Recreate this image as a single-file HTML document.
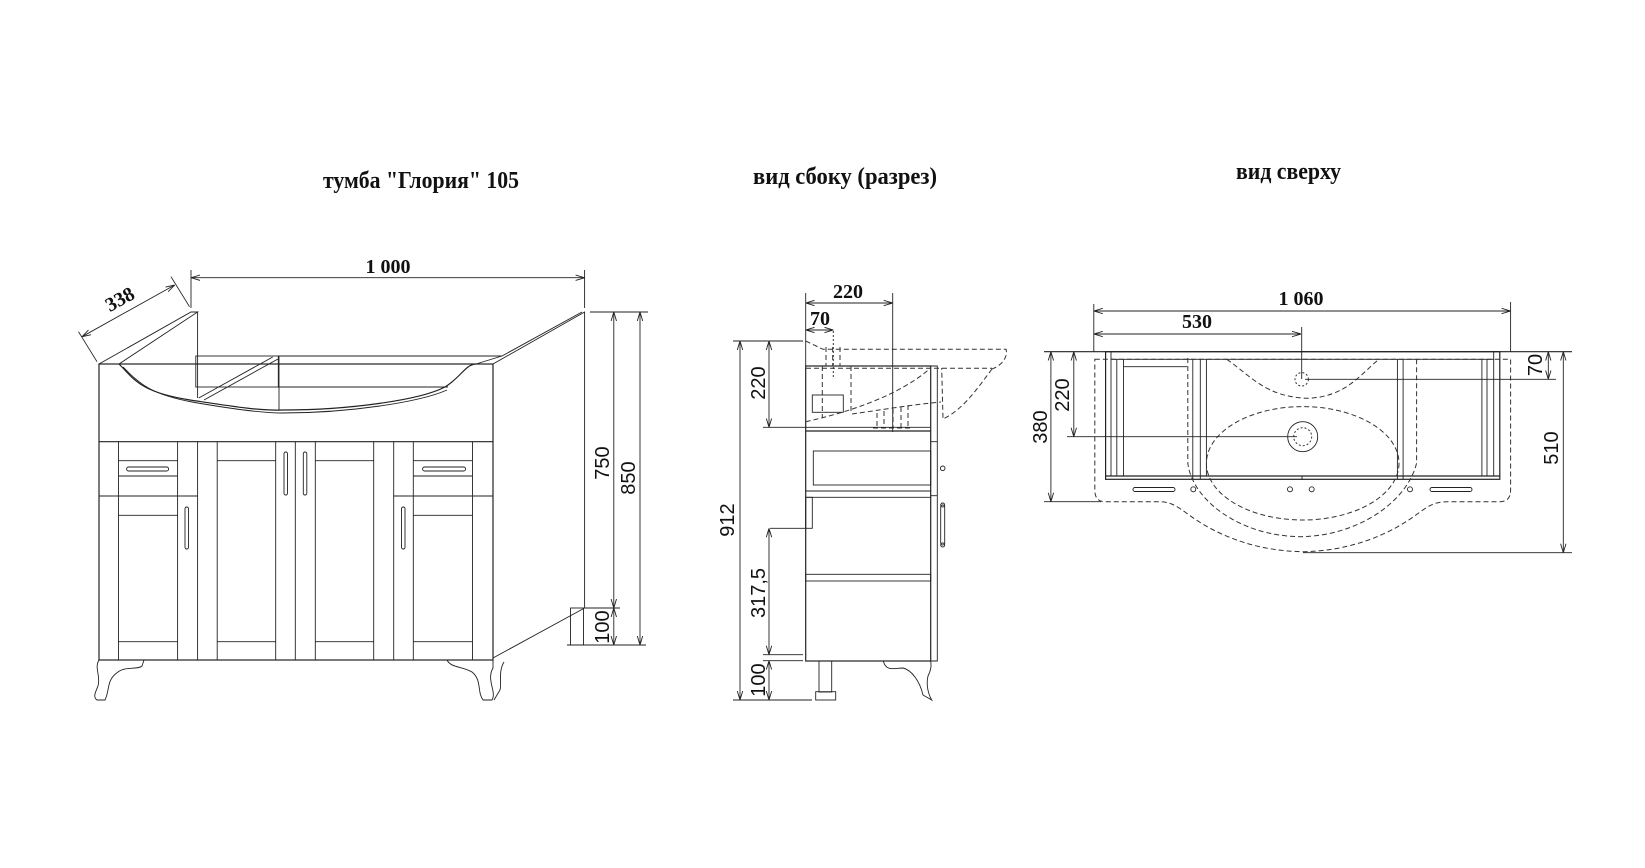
<!DOCTYPE html>
<html><head><meta charset="utf-8"><style>
html,body{margin:0;padding:0;background:#fff}
svg{display:block}
.s{stroke:#222;stroke-width:1.2;fill:none}
.t{stroke:#222;stroke-width:0.9;fill:none}
.d{stroke:#333;stroke-width:1;fill:none;stroke-dasharray:5 3}
.dm{stroke:#222;stroke-width:0.9;fill:none;marker-start:url(#a);marker-end:url(#a)}
.ts{font-family:"Liberation Serif",serif;font-weight:bold;font-size:20px;fill:#111}
.tt{font-family:"Liberation Serif",serif;font-weight:bold;font-size:24px;fill:#111}
.tv{font-family:"Liberation Sans",sans-serif;font-size:20px;fill:#111}
</style></head><body>
<svg width="1645" height="868" viewBox="0 0 1645 868" xmlns="http://www.w3.org/2000/svg">
<defs>
<marker id="a" viewBox="0 0 10 10" refX="10" refY="5" markerWidth="9" markerHeight="9" orient="auto-start-reverse" markerUnits="userSpaceOnUse">
<path d="M0,2 L10,5 L0,8" fill="none" stroke="#222" stroke-width="1"/></marker>
</defs>

<!-- titles -->
<text class="tt" x="323" y="188" textLength="196" lengthAdjust="spacingAndGlyphs">тумба "Глория" 105</text>
<text class="tt" x="753" y="184" textLength="184" lengthAdjust="spacingAndGlyphs">вид сбоку (разрез)</text>
<text class="tt" x="1236" y="179" textLength="105" lengthAdjust="spacingAndGlyphs">вид сверху</text>

<!-- ================= FRONT VIEW ================= -->
<rect class="s" x="99" y="364" width="394" height="296"/>
<line class="s" x1="99" y1="441.7" x2="493" y2="441.7"/>
<path class="t" d="M99,364 L191,312 L197.6,312 L119,364"/>
<line class="t" x1="197.6" y1="312" x2="197.6" y2="398"/>
<path class="t" d="M493,364 L584.6,312 L584.6,608 L493,658"/>
<line class="t" x1="476" y1="364" x2="502" y2="356"/>
<line class="t" x1="502" y1="356" x2="582" y2="312"/>
<rect class="t" x="570.5" y="608" width="13" height="37"/>
<rect class="t" x="195.8" y="356" width="82.5" height="31"/>
<line class="t" x1="278" y1="356" x2="502" y2="356"/>
<line class="t" x1="278" y1="387" x2="448" y2="387"/>
<line class="t" x1="279" y1="356" x2="279" y2="410"/>
<line class="t" x1="198.7" y1="398" x2="272.7" y2="357"/>
<line class="t" x1="204" y1="400" x2="278" y2="359"/>
<path class="s" d="M119,364 C135,380 140,392 190,400 C230,406 260,411 282,410 C350,410 420,400 445,387 C460,378 466,364 476,364"/>
<path class="t" d="M123,367 C140,384 150,394 192,402 C232,409 262,413 282,413 C350,413 420,402 447,390"/>
<g class="t">
<line x1="118.5" y1="441.7" x2="118.5" y2="660"/>
<line x1="177.6" y1="441.7" x2="177.6" y2="660"/>
<line x1="197.6" y1="441.7" x2="197.6" y2="660"/>
<line x1="217.2" y1="441.7" x2="217.2" y2="660"/>
<line x1="275.7" y1="441.7" x2="275.7" y2="660"/>
<line x1="295.3" y1="441.7" x2="295.3" y2="660"/>
<line x1="315.3" y1="441.7" x2="315.3" y2="660"/>
<line x1="373.7" y1="441.7" x2="373.7" y2="660"/>
<line x1="393.7" y1="441.7" x2="393.7" y2="660"/>
<line x1="413.3" y1="441.7" x2="413.3" y2="660"/>
<line x1="472.5" y1="441.7" x2="472.5" y2="660"/>
<line x1="118.5" y1="460.7" x2="177.6" y2="460.7"/>
<line x1="118.5" y1="476" x2="177.6" y2="476"/>
<line x1="413.3" y1="460.7" x2="472.5" y2="460.7"/>
<line x1="413.3" y1="476" x2="472.5" y2="476"/>
<line x1="99" y1="496" x2="197.6" y2="496"/>
<line x1="393.7" y1="496" x2="493" y2="496"/>
<line x1="118.5" y1="515.3" x2="177.6" y2="515.3"/>
<line x1="413.3" y1="515.3" x2="472.5" y2="515.3"/>
<line x1="217.2" y1="460.7" x2="275.7" y2="460.7"/>
<line x1="315.3" y1="460.7" x2="373.7" y2="460.7"/>
<line x1="118.5" y1="641.7" x2="177.6" y2="641.7"/>
<line x1="217.2" y1="641.7" x2="275.7" y2="641.7"/>
<line x1="315.3" y1="641.7" x2="373.7" y2="641.7"/>
<line x1="413.3" y1="641.7" x2="472.5" y2="641.7"/>
</g>
<g class="t">
<rect x="126.6" y="467" width="42" height="4" rx="2"/>
<rect x="422.6" y="467" width="43" height="4" rx="2"/>
<rect x="284" y="452" width="3.5" height="43" rx="1.7"/>
<rect x="303.3" y="452" width="3.5" height="43" rx="1.7"/>
<rect x="185" y="507" width="3.5" height="42" rx="1.7"/>
<rect x="401.5" y="507" width="3.5" height="42" rx="1.7"/>
</g>
<path class="t" d="M99,660 C94,668 101,676 98,686 C95,693 93,697 97,700 L105,700 C110,690 106,680 118,672 C126,666 138,670 142,666 L144,660"/>
<path class="t" d="M447,660 C451,668 462,666 472,672 C482,680 477,692 483,700 L492,700 C497,692 486,680 493,668 L493,660"/>
<path class="t" d="M504,662 C498,672 502,682 500,690 L494,700"/>
<line class="dm" x1="191" y1="277.7" x2="584.6" y2="277.7"/>
<line class="t" x1="191" y1="270" x2="191" y2="308"/>
<line class="t" x1="584.6" y1="270" x2="584.6" y2="308"/>
<text class="ts" x="388" y="273" text-anchor="middle">1 000</text>
<line class="dm" x1="82" y1="336.7" x2="174.7" y2="285"/>
<line class="t" x1="78.5" y1="331.7" x2="97" y2="361.7"/>
<line class="t" x1="171" y1="276.7" x2="189.5" y2="306.7"/>
<text class="ts" x="0" y="0" text-anchor="middle" transform="translate(123,305) rotate(-29)">338</text>
<line class="t" x1="590" y1="312" x2="648" y2="312"/>
<line class="t" x1="585" y1="608" x2="620" y2="608"/>
<line class="t" x1="567" y1="645" x2="646" y2="645"/>
<line class="dm" x1="613.8" y1="312" x2="613.8" y2="608"/>
<line class="dm" x1="613.8" y1="608" x2="613.8" y2="645"/>
<line class="dm" x1="640" y1="312" x2="640" y2="645"/>
<text class="tv" x="0" y="0" text-anchor="middle" transform="translate(609,463) rotate(-90)">750</text>
<text class="tv" x="0" y="0" text-anchor="middle" transform="translate(635,478) rotate(-90)">850</text>
<text class="tv" x="0" y="0" text-anchor="middle" transform="translate(609,627) rotate(-90)">100</text>

<!-- ================= SIDE VIEW ================= -->
<rect class="s" x="805.7" y="366" width="125" height="295"/>
<line class="s" x1="805.7" y1="431" x2="930.7" y2="431"/>
<rect class="t" x="813.3" y="451" width="117.4" height="34"/>
<line class="t" x1="805.7" y1="491" x2="930.7" y2="491"/>
<line class="t" x1="805.7" y1="497.3" x2="930.7" y2="497.3"/>
<rect class="t" x="805.7" y="574.3" width="125" height="6.7"/>
<rect class="t" x="805.7" y="497.3" width="6.6" height="31"/>
<path class="t" d="M930.7,366 H937.3 V661 H930.7 M930.7,441.7 H937.3 M930.7,495.7 H937.3"/>
<circle class="t" cx="942.7" cy="468.3" r="2.3"/>
<rect class="t" x="940.7" y="505" width="4" height="40" rx="2"/>
<circle class="t" cx="942.7" cy="505" r="2"/><circle class="t" cx="942.7" cy="545" r="2"/>
<rect class="t" x="819" y="661" width="12.7" height="31"/>
<rect class="t" x="815.7" y="691.7" width="20" height="8.3"/>
<path class="t" d="M883.3,661 C886,672 895,668 903,668 C912,670 920,682 923,695 L931.7,700 C926,690 927,680 928,676 C932,668 931,664 930.7,661"/>
<path class="d" d="M805.7,341 L823,349.3 L1006,349.3 C1008,356 1003,365 992,369"/>
<path class="d" d="M806,368.3 L992,368.3"/>
<path class="d" d="M992,369 C975,392 962,410 943,419 L941.7,368"/>
<path class="d" d="M805.7,421.7 C850,412 900,395 930.7,368"/>
<path class="d" d="M852,414 C880,410 910,405 941,402"/>
<path class="d" d="M822.3,366 V418 M851,366 V414 M826,347 V366 M832.7,347 V366 M840,347 V366"/>
<path class="d" d="M877,413 V428 M884,411 V428 M893,409 V428 M901,407 V428 M908,405 V428 M873,428 H910"/>
<rect class="t" x="812.3" y="395" width="31" height="17.3"/>
<line class="d" x1="833.3" y1="331" x2="833.3" y2="378" style="stroke-dasharray:2 2"/>
<line class="t" x1="892.7" y1="293" x2="892.7" y2="432"/>
<line class="t" x1="805.7" y1="293" x2="805.7" y2="366"/>
<line class="dm" x1="805.7" y1="303" x2="892.7" y2="303"/>
<text class="ts" x="848" y="298" text-anchor="middle">220</text>
<line class="dm" x1="805.7" y1="330" x2="833.3" y2="330"/>
<text class="ts" x="820" y="325" text-anchor="middle">70</text>
<line class="t" x1="733" y1="341" x2="803" y2="341"/>
<line class="t" x1="763" y1="427.3" x2="930" y2="427.3"/>
<line class="t" x1="770" y1="528.3" x2="805" y2="528.3"/>
<line class="t" x1="763" y1="654.7" x2="803" y2="654.7"/>
<line class="t" x1="763" y1="660.7" x2="803" y2="660.7"/>
<line class="t" x1="733" y1="700" x2="812" y2="700"/>
<line class="dm" x1="740" y1="341" x2="740" y2="700"/>
<line class="dm" x1="769" y1="341" x2="769" y2="427.3"/>
<line class="dm" x1="769" y1="528.3" x2="769" y2="654.7"/>
<line class="dm" x1="769" y1="660.7" x2="769" y2="700"/>
<text class="tv" x="0" y="0" text-anchor="middle" transform="translate(734,520) rotate(-90)">912</text>
<text class="tv" x="0" y="0" text-anchor="middle" transform="translate(765,383) rotate(-90)">220</text>
<text class="tv" x="0" y="0" text-anchor="middle" transform="translate(765,593) rotate(-90)">317,5</text>
<text class="tv" x="0" y="0" text-anchor="middle" transform="translate(765,680) rotate(-90)">100</text>

<!-- ================= TOP VIEW ================= -->
<line class="s" x1="1044" y1="351.7" x2="1572" y2="351.7"/>
<rect class="s" x="1105.6" y="351.7" width="394.2" height="127.6"/>
<line class="t" x1="1111" y1="359.3" x2="1494" y2="359.3"/>
<line class="s" x1="1105.6" y1="476" x2="1499.8" y2="476"/>
<g class="t">
<line x1="1111" y1="351.7" x2="1111" y2="476"/>
<line x1="1116.8" y1="359.3" x2="1116.8" y2="476"/>
<line x1="1123.5" y1="359.3" x2="1123.5" y2="476"/>
<line x1="1123.5" y1="366.7" x2="1187" y2="366.7"/>
<line x1="1192.8" y1="359.3" x2="1192.8" y2="479"/>
<line x1="1200.3" y1="359.3" x2="1200.3" y2="479"/>
<line x1="1206.4" y1="359.3" x2="1206.4" y2="476"/>
<line x1="1397.4" y1="359.3" x2="1397.4" y2="479"/>
<line x1="1403.1" y1="359.3" x2="1403.1" y2="479"/>
<line x1="1481.9" y1="359.3" x2="1481.9" y2="476"/>
<line x1="1487" y1="359.3" x2="1487" y2="476"/>
<line x1="1493.7" y1="351.7" x2="1493.7" y2="476"/>
<line x1="1302" y1="476" x2="1302" y2="480"/>
</g>
<path class="d" d="M1094.8,359.3 H1510.6 V490 Q1510.6,501.7 1500,501.7 H1446.7 C1435,502 1430,505 1420,512 C1390,535 1350,551 1303,551.7 C1255,551 1215,535 1185,512 C1175,505 1170,502 1160,501.7 H1105 Q1094.8,501.7 1094.8,490 Z"/>
<path class="d" d="M1187.8,358 V463 C1192,500 1240,536 1300,536.7 C1360,536 1408,500 1416.6,463 V358"/>
<ellipse class="d" cx="1302.7" cy="463.3" rx="96.3" ry="56.7"/>
<path class="d" d="M1226.7,359.3 C1250,375 1265,397 1307.8,398.3 C1345,397 1360,375 1378.8,359.3"/>
<circle class="d" cx="1301.7" cy="379.3" r="6.7" style="stroke-dasharray:2 2"/>
<circle class="t" cx="1302.7" cy="436.7" r="15"/>
<circle class="d" cx="1302.7" cy="436.7" r="9" style="stroke-dasharray:2 2"/>
<g class="t">
<rect x="1133" y="487.5" width="42" height="4" rx="2"/>
<rect x="1430" y="487.5" width="42" height="4" rx="2"/>
<circle cx="1193.3" cy="489.3" r="2.5"/>
<circle cx="1290" cy="489.3" r="2.5"/>
<circle cx="1311.7" cy="489.3" r="2.5"/>
<circle cx="1410" cy="489.3" r="2.5"/>
</g>
<line class="t" x1="1093.8" y1="304" x2="1093.8" y2="352"/>
<line class="t" x1="1510.6" y1="302" x2="1510.6" y2="352"/>
<line class="dm" x1="1093.8" y1="311" x2="1510.6" y2="311"/>
<text class="ts" x="1301" y="305" text-anchor="middle">1 060</text>
<line class="dm" x1="1093.8" y1="334" x2="1301" y2="334"/>
<text class="ts" x="1197" y="328" text-anchor="middle">530</text>
<line class="t" x1="1301.7" y1="327" x2="1301.7" y2="379"/>
<line class="t" x1="1305" y1="379.3" x2="1556" y2="379.3"/>
<line class="t" x1="1067" y1="436.7" x2="1297" y2="436.7"/>
<line class="t" x1="1044" y1="501.7" x2="1101" y2="501.7"/>
<line class="t" x1="1303" y1="552.7" x2="1572" y2="552.7"/>
<line class="dm" x1="1073.8" y1="351.7" x2="1073.8" y2="436.7"/>
<line class="dm" x1="1050.9" y1="351.7" x2="1050.9" y2="501.7"/>
<line class="dm" x1="1548.3" y1="351.7" x2="1548.3" y2="379.3"/>
<line class="dm" x1="1563.3" y1="351.7" x2="1563.3" y2="552.7"/>
<text class="tv" x="0" y="0" text-anchor="middle" transform="translate(1047,427) rotate(-90)">380</text>
<text class="tv" x="0" y="0" text-anchor="middle" transform="translate(1069,395) rotate(-90)">220</text>
<text class="tv" x="0" y="0" text-anchor="middle" transform="translate(1542,365) rotate(-90)">70</text>
<text class="tv" x="0" y="0" text-anchor="middle" transform="translate(1558,448) rotate(-90)">510</text>
</svg>
</body></html>
